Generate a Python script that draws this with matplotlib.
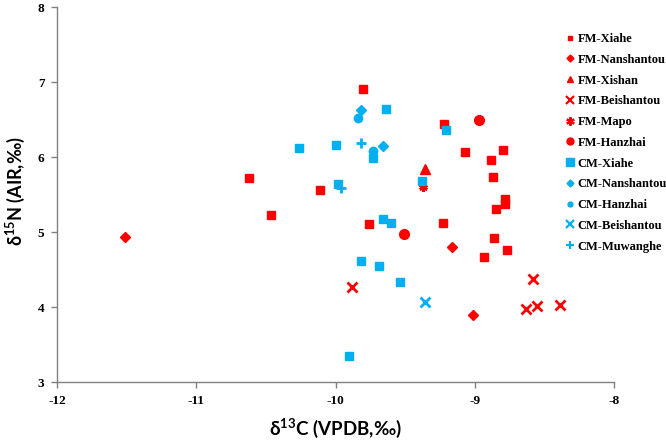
import matplotlib
matplotlib.use("Agg")
import matplotlib.pyplot as plt

plt.rcParams["axes.unicode_minus"] = False

RED = "#FF0000"
BLUE = "#00B0F0"

fm_xiahe_x = [-9.80, -10.62, -10.11, -10.46, -9.76, -9.22, -9.07, -8.80, -8.88, -8.87, -8.78, -8.78, -8.85, -9.23, -8.86, -8.77, -8.93]
fm_xiahe_y = [6.91, 5.73, 5.56, 5.23, 5.11, 6.45, 6.07, 6.10, 5.97, 5.74, 5.44, 5.37, 5.31, 5.12, 4.92, 4.76, 4.67]
fm_nanshantou_x = [-11.51, -9.16, -9.01]
fm_nanshantou_y = [4.94, 4.80, 3.89]
fm_xishan_x = [-9.36]
fm_xishan_y = [5.84]
fm_beishantou_x = [-9.88, -8.58, -8.63, -8.55, -8.39]
fm_beishantou_y = [4.27, 4.38, 3.97, 4.01, 4.03]
fm_mapo_x = [-9.37]
fm_mapo_y = [5.61]
fm_hanzhai_x = [-8.97, -9.51]
fm_hanzhai_y = [6.50, 4.97]
cm_xiahe_x = [-9.64, -9.21, -10.26, -10.00, -9.73, -9.98, -9.38, -9.66, -9.60, -9.82, -9.69, -9.54, -9.90]
cm_xiahe_y = [6.65, 6.37, 6.12, 6.17, 5.99, 5.65, 5.69, 5.17, 5.12, 4.62, 4.55, 4.33, 3.35]
cm_nanshantou_x = [-9.82, -9.66]
cm_nanshantou_y = [6.63, 6.15]
cm_hanzhai_x = [-9.84, -9.73]
cm_hanzhai_y = [6.52, 6.09]
cm_beishantou_x = [-9.36]
cm_beishantou_y = [4.07]
cm_muwanghe_x = [-9.82, -9.96]
cm_muwanghe_y = [6.19, 5.59]

series = [
    ("FM-Xiahe", fm_xiahe_x, fm_xiahe_y, "s", RED, 6.0, 3.5),
    ("FM-Nanshantou", fm_nanshantou_x, fm_nanshantou_y, "D", RED, 5.0, 3.5),
    ("FM-Xishan", fm_xishan_x, fm_xishan_y, "^", RED, 6.5, 4.5),
    ("FM-Beishantou", fm_beishantou_x, fm_beishantou_y, "x", RED, 7.0, 5.5),
    ("FM-Mapo", fm_mapo_x, fm_mapo_y, (6, 2, 0), RED, 6.0, 6.0),
    ("FM-Hanzhai", fm_hanzhai_x, fm_hanzhai_y, "o", RED, 7.0, 5.0),
    ("CM-Xiahe", cm_xiahe_x, cm_xiahe_y, "s", BLUE, 6.0, 5.5),
    ("CM-Nanshantou", cm_nanshantou_x, cm_nanshantou_y, "D", BLUE, 5.0, 3.5),
    ("CM-Hanzhai", cm_hanzhai_x, cm_hanzhai_y, "o", BLUE, 6.0, 3.5),
    ("CM-Beishantou", cm_beishantou_x, cm_beishantou_y, "x", BLUE, 7.0, 5.5),
    ("CM-Muwanghe", cm_muwanghe_x, cm_muwanghe_y, "+", BLUE, 7.0, 5.5),
]

fig = plt.figure(figsize=(6.66, 4.40), dpi=100)
ax = fig.add_axes([57/666, 1-382/440, (614-57)/666, (382-7.5)/440])

handles = []
for name, xs, ys, mk, col, ms, lms in series:
    mew = 2.0 if mk in ("x", "+", (6, 2, 0)) else 1.0
    ax.plot(xs, ys, linestyle="none", marker=mk, color=col, markersize=ms,
            markeredgewidth=mew, markeredgecolor=col)
    h, = ax.plot([], [], linestyle="none", marker=mk, color=col, markersize=lms,
                 markeredgewidth=1.6 if mew > 1 else 1.0, markeredgecolor=col, label=name)
    handles.append(h)

ax.set_xlim(-12, -8)
ax.set_ylim(3, 8)
ax.set_xticks([-12, -11, -10, -9, -8])
ax.set_yticks([3, 4, 5, 6, 7, 8])
ax.spines["top"].set_visible(False)
ax.spines["right"].set_visible(False)
for s in ("left", "bottom"):
    ax.spines[s].set_color("#808080")
    ax.spines[s].set_linewidth(1.0)
ax.tick_params(direction="out", length=4, color="#808080", width=1.0, pad=5)
for lab in ax.get_xticklabels() + ax.get_yticklabels():
    lab.set_fontfamily("Liberation Serif")
    lab.set_fontweight("bold")
    lab.set_fontsize(9.5)

ax.set_xlabel(r"δ$^{\mathregular{13}}$C (VPDB,‰)", fontfamily="Lato",
              fontweight="bold", fontsize=13.5, va="center")
ax.xaxis.set_label_coords(0.5, -0.122)
ax.set_ylabel(r"δ$^{\mathregular{15}}$N (AIR,‰)", fontfamily="Lato",
              fontweight="bold", fontsize=13, va="center")
ax.yaxis.set_label_coords(-0.074, 0.51)

leg = ax.legend(handles=handles, loc="upper left", bbox_to_anchor=(0.905, 0.945),
                frameon=False, handlelength=0.6, handletextpad=0.3,
                labelspacing=0.7, borderaxespad=0,
                prop={"family": "Liberation Serif", "weight": "bold", "size": 9})

fig.savefig("out.png", dpi=100)
